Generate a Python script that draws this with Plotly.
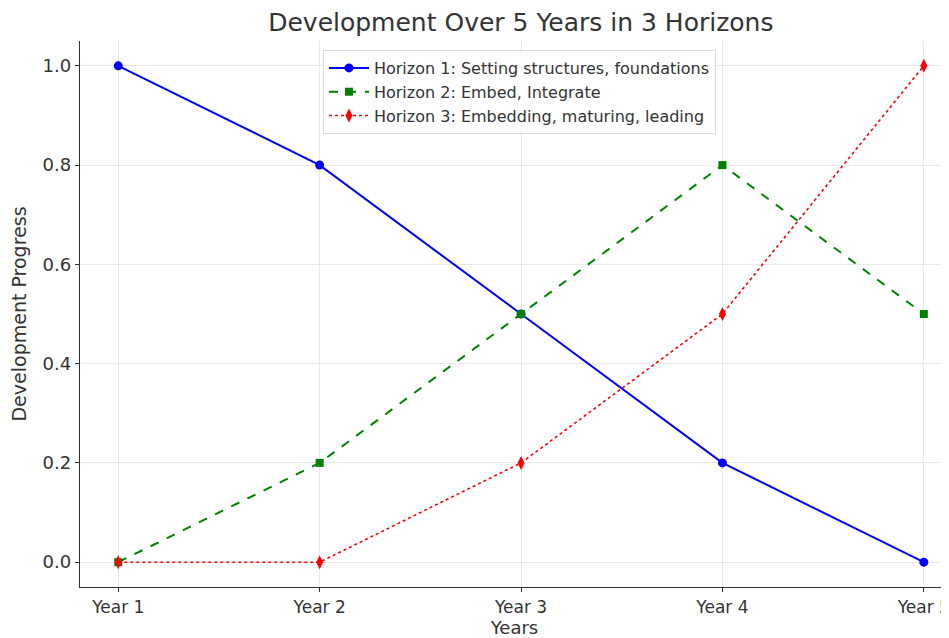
import plotly.graph_objects as go

years = ["Year 1", "Year 2", "Year 3", "Year 4", "Year 5"]
horizon1 = [1.0, 0.8, 0.5, 0.2, 0.0]
horizon2 = [0.0, 0.2, 0.5, 0.8, 0.5]
horizon3 = [0.0, 0.0, 0.2, 0.5, 1.0]
names = ["Horizon 1: Setting structures, foundations",
         "Horizon 2: Embed, Integrate",
         "Horizon 3: Embedding, maturing, leading"]

xs = list(range(len(years)))
fig = go.Figure()
fig.add_trace(go.Scatter(x=xs, y=horizon1, name=names[0], mode="lines+markers",
                         line=dict(color="#0000ff", width=2, dash="solid"),
                         marker=dict(symbol="circle", size=9, color="#0000ff")))
fig.add_trace(go.Scatter(x=xs, y=horizon2, name=names[1], mode="lines+markers",
                         line=dict(color="#008000", width=2, dash="dash"),
                         marker=dict(symbol="square", size=8, color="#008000")))
fig.add_trace(go.Scatter(x=xs, y=horizon3, name=names[2], mode="lines+markers",
                         line=dict(color="#ff0000", width=1.6, dash="dot"),
                         marker=dict(symbol="diamond-tall", size=10, color="#ff0000")))

axis_common = dict(showline=True, linecolor="#333333", linewidth=1.3,
                   ticks="outside", ticklen=4, tickcolor="#333333",
                   showgrid=True, gridcolor="#e8e8e8", gridwidth=1,
                   zeroline=False, tickfont=dict(size=18, color="#333333"),
                   automargin=False)

# page body adds an 8px offset, so the figure is sized and placed to compensate
fig.update_layout(
    width=941, height=630,
    margin=dict(l=72, r=0, t=33, b=51),
    paper_bgcolor="white", plot_bgcolor="white",
    font=dict(family="DejaVu Sans", color="#333333"),
    title=dict(text="Development Over 5 Years in 3 Horizons", x=0.545, xanchor="center",
               y=0.977, yanchor="middle", font=dict(size=25, color="#333333")),
    xaxis=dict(axis_common, tickmode="array", tickvals=xs, ticktext=years,
               range=[-0.19, 4.125], ticklabeloverflow="allow",
               tickfont=dict(size=17, color="#333333"),
               title=dict(text="Years", font=dict(size=18), standoff=0)),
    yaxis=dict(axis_common, range=[-0.05, 1.05], tickvals=[0, 0.2, 0.4, 0.6, 0.8, 1.0],
               tickformat=".1f",
               title=dict(text="Development Progress", font=dict(size=19), standoff=10)),
    legend=dict(x=0.2796, y=0.9835, xanchor="left", yanchor="top",
                bgcolor="rgba(255,255,255,0.8)", bordercolor="#dddddd", borderwidth=1,
                font=dict(size=16, color="#333333"), tracegroupgap=0, itemwidth=40),
    showlegend=True,
)

fig.write_html("out.html")
